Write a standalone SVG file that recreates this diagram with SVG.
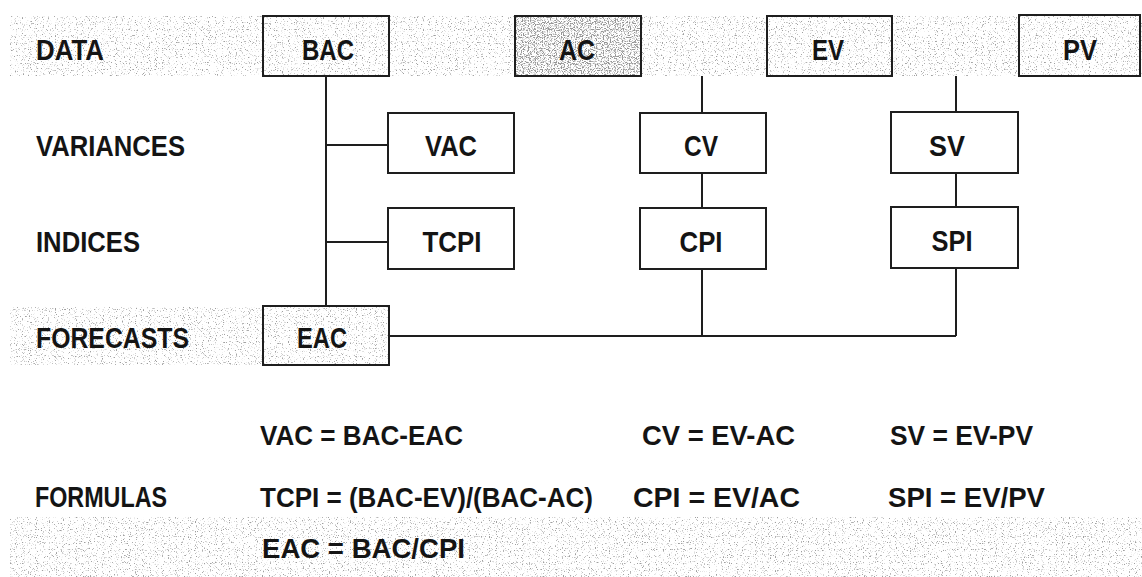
<svg xmlns="http://www.w3.org/2000/svg" width="1142" height="577" viewBox="0 0 1142 577">
  <defs>
    <filter id="grain" x="0" y="0" width="100%" height="100%">
      <feTurbulence type="fractalNoise" baseFrequency="0.85" numOctaves="1" seed="7" result="noise"/>
      <feColorMatrix in="noise" type="matrix" values="0 0 0 0 0.35  0 0 0 0 0.35  0 0 0 0 0.35  7 0 0 0 -4.1" result="dots"/>
      <feComposite in="dots" in2="SourceAlpha" operator="in"/>
    </filter>
    <filter id="grainDense" x="0" y="0" width="100%" height="100%">
      <feTurbulence type="fractalNoise" baseFrequency="0.85" numOctaves="1" seed="11" result="noise"/>
      <feColorMatrix in="noise" type="matrix" values="0 0 0 0 0.3  0 0 0 0 0.3  0 0 0 0 0.3  7 0 0 0 -3.5" result="dots"/>
      <feComposite in="dots" in2="SourceAlpha" operator="in"/>
    </filter>
    <style>
      .band { fill: #ffffff; filter: url(#grain); }
      .dense { fill: #ffffff; filter: url(#grainDense); }
      .box { fill: #ffffff; stroke: #1e1e1e; stroke-width: 2; }
      .dbox { fill: none; stroke: #1e1e1e; stroke-width: 2; }
      .wire { fill: none; stroke: #1e1e1e; stroke-width: 2; }
      text { font-family: "Liberation Sans", Arial, sans-serif; font-weight: bold; fill: #141414; }
      .lbl { font-size: 29px; }
      .nt { font-size: 30px; text-anchor: middle; }
      .fm { font-size: 28px; }
    </style>
  </defs>

  <rect width="1142" height="577" fill="#ffffff"/>

  <!-- shaded bands -->
  <g id="bands">
    <rect class="band" x="10" y="16" width="1132" height="60"/>
    <rect class="band" x="10" y="307" width="379" height="58"/>
    <rect class="band" x="10" y="517" width="1132" height="60"/>
    <rect class="dense" x="515" y="17" width="125" height="58"/>
  </g>

  <!-- row labels -->
  <g id="row-labels">
    <text class="lbl" x="36" y="60" textLength="68" lengthAdjust="spacingAndGlyphs">DATA</text>
    <text class="lbl" x="36" y="156" textLength="149" lengthAdjust="spacingAndGlyphs">VARIANCES</text>
    <text class="lbl" x="36" y="252" textLength="104" lengthAdjust="spacingAndGlyphs">INDICES</text>
    <text class="lbl" x="36" y="348" textLength="153" lengthAdjust="spacingAndGlyphs">FORECASTS</text>
    <text class="lbl" x="35" y="507" textLength="132" lengthAdjust="spacingAndGlyphs">FORMULAS</text>
  </g>

  <!-- connectors -->
  <g id="connectors">
    <path class="wire" d="M326 77 V306"/>
    <path class="wire" d="M326 145 H388"/>
    <path class="wire" d="M326 242 H388"/>
    <path class="wire" d="M702 76 V113"/>
    <path class="wire" d="M702 173 V208"/>
    <path class="wire" d="M702 269 V336"/>
    <path class="wire" d="M956 76 V113"/>
    <path class="wire" d="M956 173 V208"/>
    <path class="wire" d="M956 269 V336"/>
    <path class="wire" d="M389 336 H956"/>
  </g>

  <!-- data row -->
  <g id="node-BAC">
    <rect class="dbox" x="263" y="16" width="126" height="60"/>
    <text class="nt" x="328" y="60" textLength="52" lengthAdjust="spacingAndGlyphs">BAC</text>
  </g>
  <g id="node-AC">
    <rect class="dbox" x="515" y="16" width="126" height="60"/>
    <text class="nt" x="577" y="60" textLength="36" lengthAdjust="spacingAndGlyphs">AC</text>
  </g>
  <g id="node-EV">
    <rect class="dbox" x="767" y="16" width="125" height="60"/>
    <text class="nt" x="828" y="60" textLength="32" lengthAdjust="spacingAndGlyphs">EV</text>
  </g>
  <g id="node-PV">
    <rect class="dbox" x="1019" y="15" width="121" height="61"/>
    <text class="nt" x="1080" y="60" textLength="34" lengthAdjust="spacingAndGlyphs">PV</text>
  </g>

  <!-- variances -->
  <g id="node-VAC">
    <rect class="box" x="388" y="113" width="126" height="60"/>
    <text class="nt" x="451" y="156" textLength="52" lengthAdjust="spacingAndGlyphs">VAC</text>
  </g>
  <g id="node-CV">
    <rect class="box" x="640" y="113" width="126" height="60"/>
    <text class="nt" x="701" y="156" textLength="34" lengthAdjust="spacingAndGlyphs">CV</text>
  </g>
  <g id="node-SV">
    <rect class="box" x="891" y="112" width="127" height="61"/>
    <text class="nt" x="947" y="156" textLength="36" lengthAdjust="spacingAndGlyphs">SV</text>
  </g>

  <!-- indices -->
  <g id="node-TCPI">
    <rect class="box" x="388" y="208" width="126" height="61"/>
    <text class="nt" x="452" y="252" textLength="59" lengthAdjust="spacingAndGlyphs">TCPI</text>
  </g>
  <g id="node-CPI">
    <rect class="box" x="640" y="208" width="126" height="61"/>
    <text class="nt" x="701" y="252" textLength="43" lengthAdjust="spacingAndGlyphs">CPI</text>
  </g>
  <g id="node-SPI">
    <rect class="box" x="891" y="207" width="127" height="61"/>
    <text class="nt" x="952" y="251" textLength="41" lengthAdjust="spacingAndGlyphs">SPI</text>
  </g>

  <!-- forecasts -->
  <g id="node-EAC">
    <rect class="dbox" x="263" y="306" width="126" height="59"/>
    <text class="nt" x="322" y="348" textLength="50" lengthAdjust="spacingAndGlyphs">EAC</text>
  </g>

  <!-- formulas -->
  <g id="formulas">
    <text class="fm" x="260" y="445" textLength="203" lengthAdjust="spacingAndGlyphs">VAC = BAC-EAC</text>
    <text class="fm" x="260" y="507" textLength="333" lengthAdjust="spacingAndGlyphs">TCPI = (BAC-EV)/(BAC-AC)</text>
    <text class="fm" x="262" y="558" textLength="203" lengthAdjust="spacingAndGlyphs">EAC = BAC/CPI</text>
    <text class="fm" x="642" y="445" textLength="153" lengthAdjust="spacingAndGlyphs">CV = EV-AC</text>
    <text class="fm" x="633" y="507" textLength="167" lengthAdjust="spacingAndGlyphs">CPI = EV/AC</text>
    <text class="fm" x="890" y="445" textLength="143" lengthAdjust="spacingAndGlyphs">SV = EV-PV</text>
    <text class="fm" x="888" y="507" textLength="157" lengthAdjust="spacingAndGlyphs">SPI = EV/PV</text>
  </g>
</svg>
